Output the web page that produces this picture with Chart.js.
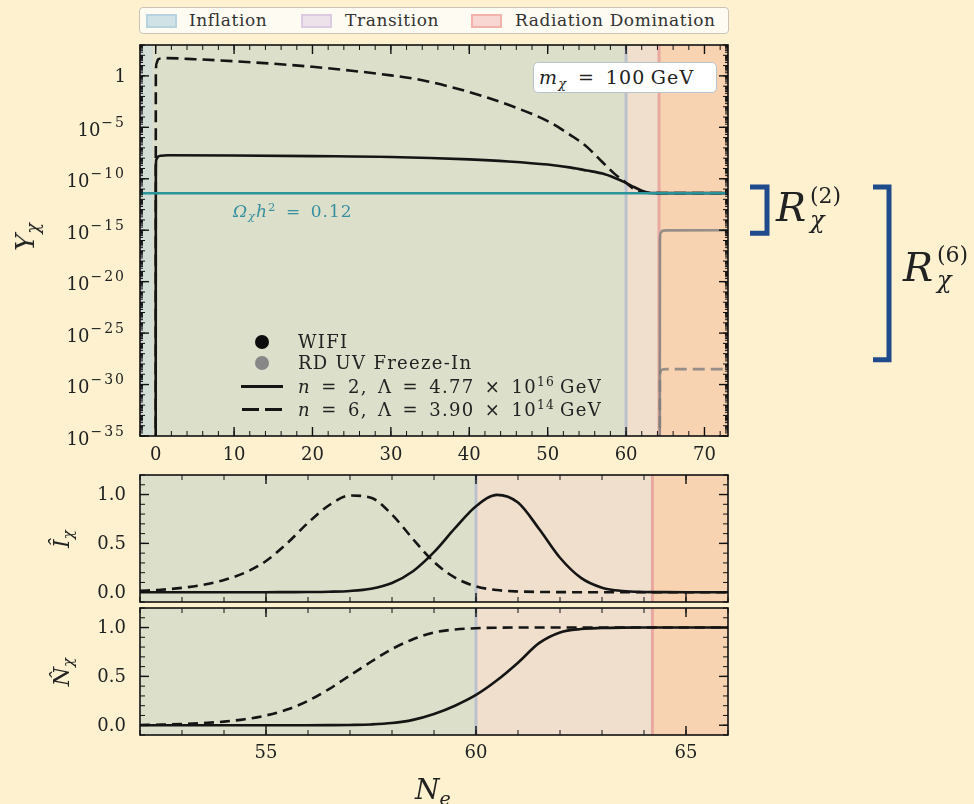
<!DOCTYPE html>
<html>
<head>
<meta charset="utf-8">
<title>WIFI vs RD UV freeze-in</title>
<script src="https://cdn.jsdelivr.net/npm/chart.js@4.4.1/dist/chart.umd.min.js"></script>
<style>
  html, body { margin: 0; padding: 0; background: #fdf1d0; }
  #fig { position: relative; width: 974px; height: 804px; overflow: hidden; background: #fdf1d0;
         font-family: 'DejaVu Serif', serif; color: #222; }
  canvas { position: absolute; left: 0; }
  .t { position: absolute; line-height: 1; white-space: nowrap; }
  .rot { position: absolute; line-height: 1; white-space: nowrap; transform: translate(-50%, -50%) rotate(-90deg); }
  sup, sub { line-height: 0; font-size: 0.68em; }
  sup { vertical-align: 0.55em; }
  sub { vertical-align: -0.3em; }
  #phaseLegend { position: absolute; left: 139px; top: 7px; width: 590px; height: 27px; box-sizing: border-box;
                 border: 1px solid #cbc4b6; border-radius: 4px; background: #fefbf2; }
  #phaseLegend .t { font-size: 17px; letter-spacing: 0.6px; top: 4px; color: #333; }
  .sw { position: absolute; top: 6px; width: 31px; height: 14px; box-sizing: border-box; border: 2px solid; }
  .dot { position: absolute; width: 14px; height: 14px; border-radius: 50%; }
  .ln { position: absolute; height: 3px; background: #151515; }
  .lg { font-size: 18px; letter-spacing: 1.3px; }
  #mbox { position: absolute; left: 533px; top: 62px; width: 184px; height: 31px; box-sizing: border-box;
          border: 1px solid #b9c3cc; border-radius: 5px; background: #fff; }
</style>
</head>
<body>
<div id="fig">
  <canvas id="topChart" width="974" height="460" style="top:0"></canvas>
  <canvas id="injChart" width="974" height="150" style="top:460px"></canvas>
  <canvas id="numChart" width="974" height="204" style="top:600px"></canvas>

  <div id="phaseLegend">
    <span class="sw" style="left:6px;background:#d1e2e7;border-color:#b6d3de"></span>
    <span class="t" style="left:49px">Inflation</span>
    <span class="sw" style="left:161px;background:#ede1ea;border-color:#dccbe2"></span>
    <span class="t" style="left:205px">Transition</span>
    <span class="sw" style="left:331px;background:#f8d6d1;border-color:#f1b3ac"></span>
    <span class="t" style="left:375px">Radiation Domination</span>
  </div>

  <div id="mbox"><span class="t" style="left:5px;top:5px;font-size:19px;letter-spacing:1.2px"><i>m</i><sub><i>χ</i></sub>&ensp;=&ensp;100&thinsp;GeV</span></div>

  <span class="t" style="left:233px;top:203px;font-size:17px;letter-spacing:1px;color:#3690a1"><i>Ω</i><sub><i>χ</i></sub><i>h</i><sup>2</sup>&ensp;=&ensp;0.12</span>

  <span class="dot" style="left:255px;top:335px;background:#0d0d0d"></span>
  <span class="dot" style="left:255px;top:356px;background:#878787"></span>
  <span class="ln" style="left:241px;top:385px;width:42px"></span>
  <span class="ln" style="left:242px;top:408px;width:17px"></span>
  <span class="ln" style="left:265px;top:408px;width:17px"></span>
  <span class="t lg" style="left:298px;top:333px">WIFI</span>
  <span class="t lg" style="left:298px;top:354px">RD UV Freeze-In</span>
  <span class="t lg" style="left:298px;top:378px"><i>n</i>&ensp;=&ensp;2,&ensp;Λ&ensp;=&ensp;4.77&ensp;×&ensp;10<sup>16</sup>&thinsp;GeV</span>
  <span class="t lg" style="left:298px;top:401px"><i>n</i>&ensp;=&ensp;6,&ensp;Λ&ensp;=&ensp;3.90&ensp;×&ensp;10<sup>14</sup>&thinsp;GeV</span>

  <span class="rot" style="left:25px;top:237px;font-size:26px"><i>Y</i><sub><i>χ</i></sub></span>
  <span class="rot" style="left:62px;top:539px;font-size:22px"><i>Î</i><sub><i>χ</i></sub></span>
  <span class="rot" style="left:62px;top:672px;font-size:22px"><i>N̂</i><sub><i>χ</i></sub></span>
  <span class="t" style="left:415px;top:776px;font-size:28px"><i>N</i><sub><i>e</i></sub></span>

  <span class="t" style="left:776px;top:187px;font-size:40px"><i>R</i></span>
  <span class="t" style="left:810px;top:185px;font-size:22px">(2)</span>
  <span class="t" style="left:810px;top:208px;font-size:24px"><i>χ</i></span>
  <span class="t" style="left:903px;top:247px;font-size:40px"><i>R</i></span>
  <span class="t" style="left:937px;top:244px;font-size:22px">(6)</span>
  <span class="t" style="left:937px;top:268px;font-size:24px"><i>χ</i></span>
</div>

<script>
// ---------- data ----------
const xTopTicks = [0, 10, 20, 30, 40, 50, 60, 70];
const yTopTicks = [1, 1e-5, 1e-10, 1e-15, 1e-20, 1e-25, 1e-30, 1e-35];
const xBotTicks = [55, 60, 65];
const yBotTicks = [0.0, 0.5, 1.0];
const phaseEdges = [60, 64.2];          // inflation | transition | radiation domination

// top panel (log10 of Y_chi)
const omegaLog = -11.4;
const wifi2N   = [0, 0.02, 0.1, 0.3, 0.7, 1.5, 10, 20, 30, 40, 45, 50, 53, 55, 57, 58.5, 60, 61, 62, 62.6, 63.2, 64, 68, 73];
const wifi2Log = [-36, -9, -8.1, -7.85, -7.76, -7.72, -7.74, -7.8, -7.88, -8.12, -8.32, -8.62, -8.92, -9.2, -9.5, -9.9, -10.4, -10.8, -11.15, -11.3, -11.38, -11.4, -11.4, -11.4];
const wifi6N   = [0, 0.02, 0.1, 0.3, 0.7, 1.5, 5, 10, 15, 20, 25, 30, 34, 38, 42, 46, 50, 53, 55, 57, 58.5, 60, 61, 62, 64, 73];
const wifi6Log = [-36, 0, 1.2, 1.6, 1.7, 1.72, 1.62, 1.42, 1.18, 0.88, 0.5, 0.05, -0.42, -1.15, -2.04, -3.1, -4.4, -5.8, -6.9, -8.4, -9.5, -10.4, -11.0, -11.3, -11.4, -11.4];
const rd2N   = [64.3, 64.32, 64.4, 64.6, 65.1, 73];
const rd2Log = [-36, -16, -15.25, -15.08, -15.02, -15.0];
const rd6N   = [64.3, 64.32, 64.4, 64.6, 65.1, 73];
const rd6Log = [-36, -29.5, -28.7, -28.55, -28.5, -28.5];
const ratio2Span = [-10.8, -15.3];
const ratio6Span = [-10.8, -27.6];

// lower panels
const botN = [52, 52.5, 53, 53.5, 54, 54.5, 55, 55.5, 56, 56.5, 57, 57.5, 58, 58.5, 59, 59.5, 60, 60.5, 61, 61.5, 62, 62.5, 63, 63.5, 64, 64.5, 65, 65.5, 66];
const inj2 = [0, 0, 0, 0, 0, 0, 0, 0.001, 0.002, 0.005, 0.013, 0.036, 0.095, 0.215, 0.41, 0.655, 0.88, 0.997, 0.918, 0.65, 0.353, 0.147, 0.047, 0.012, 0.003, 0.001, 0, 0, 0];
const inj6 = [0.015, 0.025, 0.045, 0.075, 0.125, 0.2, 0.32, 0.5, 0.71, 0.89, 0.99, 0.968, 0.794, 0.544, 0.31, 0.149, 0.06, 0.022, 0.008, 0.003, 0.001, 0, 0, 0, 0, 0, 0, 0, 0];
const num2 = [0, 0, 0, 0, 0, 0, 0, 0, 0, 0.001, 0.003, 0.008, 0.022, 0.055, 0.115, 0.2, 0.31, 0.46, 0.64, 0.84, 0.95, 0.985, 0.995, 0.999, 1, 1, 1, 1, 1];
const num6 = [0.003, 0.006, 0.012, 0.022, 0.037, 0.062, 0.10, 0.16, 0.25, 0.37, 0.51, 0.65, 0.78, 0.88, 0.95, 0.98, 0.993, 0.998, 1, 1, 1, 1, 1, 1, 1, 1, 1, 1, 1];

// ---------- styles ----------
const phaseFill = ['#dcdfc9', '#efdfcc', '#f7d3b1'];
const phaseLine = ['#bcc2cd', '#e8a89f'];
const black = '#151515';
const grey = 'rgba(125,125,125,0.8)';
const teal = '#2b949a';
const tickFont = "18px 'DejaVu Serif'";

const pts = (xs, ys, f) => xs.map((x, i) => ({ x: x, y: f ? f(ys[i]) : ys[i] }));
const pow10 = v => Math.pow(10, v);

function seg(ctx, x0, y0, x1, y1) {
  ctx.beginPath(); ctx.moveTo(x0, y0); ctx.lineTo(x1, y1); ctx.stroke();
}

function makeDecor(cfg) {
  return {
    id: 'decor',
    beforeDatasetsDraw(chart) {
      const ctx = chart.ctx, a = chart.chartArea, x = chart.scales.x;
      const e0 = x.getPixelForValue(phaseEdges[0]), e1 = x.getPixelForValue(phaseEdges[1]);
      ctx.save();
      ctx.fillStyle = phaseFill[0]; ctx.fillRect(a.left, a.top, e0 - a.left, a.height);
      ctx.fillStyle = phaseFill[1]; ctx.fillRect(e0, a.top, e1 - e0, a.height);
      ctx.fillStyle = phaseFill[2]; ctx.fillRect(e1, a.top, a.right - e1, a.height);
      if (cfg.strip) {
        ctx.fillStyle = '#d3ded7';
        ctx.fillRect(a.left, a.top, x.getPixelForValue(-0.4) - a.left, a.height);
      }
      ctx.lineWidth = 3;
      [e0, e1].forEach((p, i) => { ctx.strokeStyle = phaseLine[i]; seg(ctx, p, a.top, p, a.bottom); });
      ctx.restore();
    },
    afterDatasetsDraw(chart) {
      const ctx = chart.ctx, a = chart.chartArea, x = chart.scales.x, y = chart.scales.y;
      ctx.save();
      ctx.strokeStyle = '#111';
      // x ticks, top and bottom, pointing inward
      ctx.lineWidth = 1;
      cfg.xMinor.forEach(v => {
        const p = x.getPixelForValue(v);
        seg(ctx, p, a.bottom, p, a.bottom - 5); seg(ctx, p, a.top, p, a.top + 5);
      });
      ctx.lineWidth = 1.4;
      cfg.xMajor.forEach(v => {
        const p = x.getPixelForValue(v);
        seg(ctx, p, a.bottom, p, a.bottom - 9); seg(ctx, p, a.top, p, a.top + 9);
      });
      // y ticks, left and right
      ctx.lineWidth = 1;
      cfg.yMinor.forEach(v => {
        const p = y.getPixelForValue(v);
        if (p < a.top || p > a.bottom) return;
        seg(ctx, a.left, p, a.left + cfg.minLen, p); seg(ctx, a.right, p, a.right - cfg.minLen, p);
      });
      (cfg.yMid || []).forEach(v => {
        const p = y.getPixelForValue(v);
        seg(ctx, a.left, p, a.left + 5, p); seg(ctx, a.right, p, a.right - 5, p);
      });
      ctx.lineWidth = 1.4;
      cfg.yMajor.forEach(v => {
        const p = y.getPixelForValue(v);
        seg(ctx, a.left, p, a.left + 9, p); seg(ctx, a.right, p, a.right - 9, p);
      });
      // frame
      ctx.lineWidth = 1.6;
      ctx.strokeRect(a.left, a.top, a.width, a.height);
      // tick labels
      ctx.fillStyle = '#222';
      ctx.textBaseline = 'middle';
      if (cfg.xLabelY) {
        ctx.font = tickFont; ctx.textAlign = 'center';
        cfg.xMajor.forEach(v => ctx.fillText(String(v), x.getPixelForValue(v), cfg.xLabelY));
      }
      const xr = a.left - 14;
      cfg.yMajor.forEach(v => {
        const p = y.getPixelForValue(v);
        ctx.textAlign = 'right';
        if (cfg.yFormat === 'pow') {
          const e = Math.round(Math.log10(v));
          if (e === 0) { ctx.font = tickFont; ctx.fillText('1', xr, p + 1); return; }
          const sup = '\u2212' + Math.abs(e);
          ctx.font = "14px 'DejaVu Serif'";
          ctx.letterSpacing = '2px';
          ctx.fillText(sup, xr, p - 4);
          const w = ctx.measureText(sup).width;
          ctx.letterSpacing = '0px';
          ctx.font = tickFont;
          ctx.fillText('10', xr - w - 1, p + 4);
        } else {
          ctx.font = tickFont;
          ctx.fillText(v.toFixed(1), xr, p + 1);
        }
      });
      // ratio brackets
      if (cfg.brackets) {
        ctx.strokeStyle = '#1f4a8b'; ctx.lineWidth = 5; ctx.lineJoin = 'miter'; ctx.lineCap = 'butt';
        [[ratio2Span, 750, 767], [ratio6Span, 873, 889]].forEach(b => {
          const y0 = y.getPixelForValue(pow10(b[0][0])), y1 = y.getPixelForValue(pow10(b[0][1]));
          ctx.beginPath();
          ctx.moveTo(b[1], y0); ctx.lineTo(b[2], y0); ctx.lineTo(b[2], y1); ctx.lineTo(b[1], y1);
          ctx.stroke();
        });
      }
      ctx.restore();
    }
  };
}

Chart.defaults.font.family = "'DejaVu Serif', serif";

// tick positions
const topXMinor = [], topYDecade = [], topYMinor = [];
for (let v = -2; v <= 72; v += 2) topXMinor.push(v);
for (let e = -35; e <= 3; e++) {
  topYDecade.push(pow10(e));
  for (let m = 2; m <= 9; m++) topYMinor.push(m * pow10(e));
}
const botXMinor = [], botYMinor = [];
for (let v = 52; v <= 66; v++) botXMinor.push(v);
for (let v = -1; v <= 12; v++) botYMinor.push(v / 10);

const lineDs = (label, data, color, dash, width) => ({
  label: label, data: data, borderColor: color, borderWidth: width || 2.6,
  borderDash: dash || [], pointRadius: 0, fill: false
});

const baseOptions = (pad, xr, yr, ylog) => ({
  responsive: false, animation: false, devicePixelRatio: 1,
  layout: { padding: pad },
  elements: { line: { cubicInterpolationMode: 'monotone' } },
  plugins: { legend: { display: false }, tooltip: { enabled: false } },
  scales: {
    x: { type: 'linear', display: false, min: xr[0], max: xr[1] },
    y: { type: ylog ? 'logarithmic' : 'linear', display: false, min: yr[0], max: yr[1] }
  }
});

new Chart(document.getElementById('topChart'), {
  type: 'line',
  data: {
    datasets: [
      lineDs('Ωχh² = 0.12', [{ x: -2, y: pow10(omegaLog) }, { x: 73, y: pow10(omegaLog) }], teal, [], 2.5),
      lineDs('WIFI, n = 2', pts(wifi2N, wifi2Log, pow10), black),
      lineDs('WIFI, n = 6', pts(wifi6N, wifi6Log, pow10), black, [12, 6]),
      lineDs('RD UV Freeze-In, n = 2', pts(rd2N, rd2Log, pow10), grey),
      lineDs('RD UV Freeze-In, n = 6', pts(rd6N, rd6Log, pow10), grey, [12, 6])
    ]
  },
  options: baseOptions({ left: 140, right: 246, top: 45, bottom: 24 }, [-2, 73], [1e-35, 1e3], true),
  plugins: [makeDecor({
    strip: true, xMajor: xTopTicks, xMinor: topXMinor, xLabelY: 455,
    yMajor: yTopTicks, yMid: topYDecade, yMinor: topYMinor, minLen: 3, yFormat: 'pow', brackets: true
  })]
});

new Chart(document.getElementById('injChart'), {
  type: 'line',
  data: {
    datasets: [
      lineDs('n = 2', pts(botN, inj2), black),
      lineDs('n = 6', pts(botN, inj6), black, [10, 6])
    ]
  },
  options: baseOptions({ left: 140, right: 246, top: 15, bottom: 8 }, [52, 66], [-0.1, 1.2], false),
  plugins: [makeDecor({
    xMajor: xBotTicks, xMinor: botXMinor, xLabelY: 0,
    yMajor: yBotTicks, yMinor: botYMinor, minLen: 5, yFormat: 'fixed'
  })]
});

new Chart(document.getElementById('numChart'), {
  type: 'line',
  data: {
    datasets: [
      lineDs('n = 2', pts(botN, num2), black),
      lineDs('n = 6', pts(botN, num6), black, [10, 6])
    ]
  },
  options: baseOptions({ left: 140, right: 246, top: 8, bottom: 69 }, [52, 66], [-0.1, 1.2], false),
  plugins: [makeDecor({
    xMajor: xBotTicks, xMinor: botXMinor, xLabelY: 153,
    yMajor: yBotTicks, yMinor: botYMinor, minLen: 5, yFormat: 'fixed'
  })]
});
</script>
</body>
</html>
